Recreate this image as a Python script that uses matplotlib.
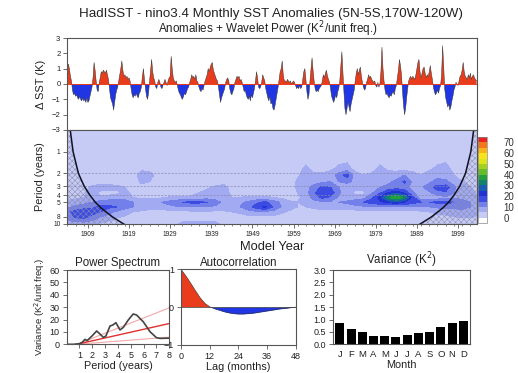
import numpy as np
import matplotlib
matplotlib.use('Agg')
import matplotlib.pyplot as plt
from matplotlib.ticker import NullLocator, FixedLocator, MultipleLocator

plt.rcParams['font.family'] = ['Liberation Sans', 'DejaVu Sans']
plt.rcParams['hatch.linewidth'] = 0.35

# Nino3.4 SST anomaly (K), 4 values per year from 1904
sst_anom = [
    1.1, 1.3, 1.0, 0.5,    0.2, -0.4, -0.7, -0.6,   -0.8, -0.7, -0.9, -1.0,  -0.8, -1.0, -1.1, -0.9,
    -1.1, -1.0, -1.2, -0.9,  -1.2, -1.1, -0.8, -0.5,  -0.2, 0.4, 1.4, 0.9,   0.2, -0.4, -0.5, 0.1,
    0.4, 0.8, 0.7, 0.9,    0.8, 0.7, 0.9, 0.6,    0.3, -0.3, -0.9, -1.1,  -1.3, -1.7, -1.2, -0.7,
    -0.4, -0.2, 0.2, 0.6,  1.0, 1.5, 0.9, 0.5,    0.6, 0.4, 0.5, 0.3,    0.4, 0.2, -0.3, -0.7,
    -0.9, -0.7, -0.8, -0.6,  -0.8, -0.9, -0.6, -0.5,  -0.2, 0.5, 1.0, 0.3,  -0.3, -0.8, -1.0, -0.6,
    0.2, 0.9, 1.6, 0.8,    0.4, 0.2, -0.2, -0.3,  0.1, 0.3, 0.1, -0.2,   -0.3, -0.1, 0.1, 0.3,
    0.1, -0.1, 0.2, 0.4,   0.5, 1.8, 1.0, 0.4,    0.2, 0.1, 0.2, -0.1,   -0.4, -0.6, -0.7, -0.9,
    -1.0, -0.8, -0.6, -0.7,  -0.5, -0.3, -0.2, 0.1,  0.3, 0.6, 0.4, 0.5,   0.3, 0.6, 0.2, 0.1,
    -0.2, -0.4, -0.5, -0.3,  -0.4, -0.1, 0.2, 0.4,  0.6, 1.0, 0.8, 1.1,   1.3, 1.4, 0.9, 0.7,
    0.5, 0.3, 0.2, -0.2,   -0.7, -1.2, -0.9, -0.7,  -0.5, -0.3, 0.1, 0.3,  0.4, 0.2, -0.3, -0.6,
    -0.7, -0.5, -0.3, 0.1,  0.3, 0.5, 0.4, 0.5,   0.2, 0.3, 0.1, -0.2,   -0.5, -0.4, -0.7, -0.9,
    -1.0, -0.8, -1.1, -0.7,  -0.9, -0.6, -0.3, 0.2,  0.8, 0.4, -0.2, -0.3,  -0.2, 0.1, 0.6, 0.4,
    0.2, -0.3, -0.6, -0.9,  -1.1, -0.8, -1.3, -1.2,  -1.6, -1.7, -1.4, -1.0,  -0.6, -0.2, 0.3, 0.8,
    1.0, 1.5, 0.6, 0.2,    0.2, 0.1, 0.3, 0.2,    0.1, 0.2, 0.0, 0.1,    0.2, 0.1, -0.1, -0.3,
    -0.2, -0.3, -0.1, -0.3,  -0.2, 0.3, 0.8, 1.0,  0.3, -0.5, -1.0, -0.7,  0.2, 1.0, 1.7, 0.9,
    0.2, -0.3, -0.5, -0.4,  -0.5, -0.3, -0.2, -0.1,  0.2, 0.6, 0.4, 0.7,  0.9, 0.5, 0.3, 0.1,
    -0.3, -0.8, -1.0, -1.2,  -1.0, -0.7, -0.9, -0.5,  -0.3, 0.2, 1.2, 2.1,  0.8, -0.5, -1.6, -2.0,
    -1.6, -1.2, -1.5, -1.8,  -1.3, -1.0, -0.7, -0.4,  0.2, 0.7, 1.0, 0.6,  0.9, 1.1, 0.5, 0.1,
    -0.2, -0.4, -0.3, 0.1,  0.3, 0.6, 0.4, 0.5,   0.3, 0.2, 0.1, 0.2,    -0.1, -0.2, 0.1, -0.2,
    0.0, 0.8, 2.4, 1.0,    0.2, -0.4, -0.7, -0.6,  -0.8, -0.9, -0.7, -0.8,  -0.6, -0.5, -0.7, -0.3,
    -0.1, 0.4, 0.9, 1.6,   1.2, 0.6, -0.5, -1.4,  -2.0, -1.6, -0.9, -0.3,  0.2, 0.4, 0.5, 0.3,
    0.5, 0.4, 0.3, 0.6,    1.0, 1.4, 1.6, 0.8,    0.4, 0.7, 1.0, 1.1,    0.7, 0.4, 0.6, 0.5,
    0.8, 1.2, 0.7, 0.3,    -0.2, -0.5, -0.7, -0.6,  -0.4, -0.6, -0.3, -0.1,  0.6, 2.5, 1.2, -0.3,
    -0.9, -1.2, -1.5, -1.3,  -1.7, -1.5, -1.1, -0.8,  -0.4, -0.2, 0.1, 0.0,  -0.1, 0.2, 0.5, 0.6,
    0.9, 1.4, 0.8, 0.5,    0.4, 0.3, 0.6, 0.4,    0.7, 0.3, 0.5, 0.6,    0.4, 0.3, 0.2,
]
start_year = 1904
end_year = 2003.5

# Wavelet power (K^2/unit freq.), one column every two years, rows = periods below
wave_years = list(range(1904, 2005, 2))
wave_periods = [0.5, 1.0, 1.7, 2.1, 2.6, 3.1, 3.7, 4.3, 5.0, 5.8, 6.8, 8.2, 10.0]
wave_cols = [
    [1, 2, 2, 2, 2, 3, 3, 4, 6, 9, 14, 12, 6],
    [1, 2, 2, 2, 2, 3, 3, 4, 7, 11, 17, 15, 7],
    [1, 2, 2, 2, 2, 3, 4, 5, 8, 13, 18, 16, 7],
    [1, 2, 2, 2, 3, 6, 7, 6, 10, 14, 17, 13, 6],
    [1, 2, 2, 2, 3, 7, 4, 6, 12, 16, 15, 9, 4],
    [1, 2, 2, 2, 3, 7, 3, 7, 13, 16, 12, 7, 3],
    [1, 2, 2, 2, 3, 6, 4, 7, 13, 15, 9, 5, 3],
    [1, 2, 2, 2, 2, 5, 6, 8, 12, 12, 7, 4, 2],
    [1, 2, 2, 3, 2, 3, 4, 5, 10, 10, 5, 3, 2],
    [1, 2, 4, 7, 6, 3, 3, 4, 8, 8, 4, 3, 2],
    [1, 2, 3, 7, 5, 3, 3, 4, 8, 7, 3, 2, 2],
    [1, 2, 2, 3, 2, 2, 3, 4, 9, 7, 3, 2, 2],
    [1, 2, 2, 2, 2, 2, 3, 5, 11, 8, 3, 2, 3],
    [1, 2, 2, 2, 2, 2, 3, 6, 13, 9, 3, 3, 4],
    [1, 2, 2, 2, 2, 2, 3, 6, 15, 10, 3, 3, 6],
    [1, 2, 2, 2, 2, 2, 3, 6, 16, 10, 4, 3, 7],
    [1, 2, 2, 2, 2, 3, 5, 7, 16, 10, 4, 3, 7],
    [1, 2, 2, 2, 2, 4, 7, 8, 15, 10, 4, 3, 7],
    [1, 2, 2, 2, 2, 6, 8, 8, 12, 9, 4, 3, 6],
    [1, 2, 2, 2, 3, 7, 7, 6, 9, 8, 4, 2, 4],
    [1, 2, 2, 2, 2, 3, 4, 5, 8, 8, 5, 2, 2],
    [1, 2, 2, 2, 2, 2, 3, 5, 9, 10, 6, 2, 2],
    [1, 2, 2, 2, 2, 2, 3, 6, 11, 13, 8, 3, 2],
    [1, 2, 2, 2, 2, 2, 3, 6, 14, 17, 9, 3, 2],
    [1, 2, 2, 2, 2, 2, 3, 6, 16, 21, 9, 3, 2],
    [1, 2, 2, 2, 2, 2, 3, 5, 13, 15, 8, 3, 2],
    [1, 2, 2, 2, 2, 2, 3, 4, 9, 10, 6, 2, 2],
    [1, 2, 2, 2, 2, 2, 3, 3, 6, 7, 4, 2, 2],
    [1, 2, 3, 4, 6, 6, 5, 4, 5, 5, 3, 2, 2],
    [1, 2, 6, 8, 8, 8, 8, 7, 6, 5, 3, 2, 2],
    [1, 2, 3, 6, 8, 12, 14, 12, 8, 6, 3, 2, 2],
    [1, 2, 3, 6, 9, 16, 20, 16, 9, 7, 3, 2, 2],
    [1, 2, 4, 7, 10, 15, 18, 14, 9, 7, 3, 2, 2],
    [1, 2, 6, 12, 10, 10, 11, 9, 10, 7, 3, 2, 2],
    [1, 2, 7, 17, 12, 5, 7, 7, 11, 7, 3, 2, 2],
    [1, 2, 3, 7, 8, 6, 4, 7, 13, 8, 3, 2, 2],
    [1, 2, 2, 5, 7, 6, 4, 8, 15, 9, 3, 2, 2],
    [1, 2, 3, 6, 8, 8, 9, 14, 17, 9, 3, 2, 2],
    [1, 2, 6, 7, 9, 10, 14, 22, 19, 9, 3, 2, 2],
    [1, 2, 4, 7, 9, 11, 20, 34, 21, 9, 3, 2, 2],
    [1, 2, 3, 8, 11, 12, 24, 40, 23, 9, 3, 2, 2],
    [1, 2, 3, 10, 16, 12, 19, 33, 20, 9, 3, 2, 2],
    [1, 2, 3, 7, 9, 8, 11, 17, 17, 9, 3, 2, 2],
    [1, 2, 3, 5, 8, 9, 7, 5, 15, 10, 4, 2, 2],
    [1, 2, 4, 7, 9, 13, 9, 5, 15, 10, 5, 2, 2],
    [1, 2, 6, 8, 12, 17, 13, 7, 16, 11, 6, 3, 2],
    [1, 2, 7, 8, 11, 18, 14, 9, 17, 11, 7, 3, 2],
    [1, 2, 3, 5, 8, 11, 10, 9, 15, 11, 8, 4, 2],
    [1, 2, 2, 3, 5, 7, 7, 8, 13, 11, 9, 5, 2],
    [1, 2, 2, 2, 3, 5, 6, 7, 10, 10, 8, 5, 2],
    [1, 2, 2, 2, 2, 3, 4, 5, 7, 8, 6, 4, 2],
]
wave_levels = list(range(0, 75, 5))
wave_colors = ['#ffffff', '#c6cbf6', '#a2aaf1', '#7480ea', '#3c4ce2', '#2232d2',
               '#1a5cb2', '#12806c', '#22a03e', '#64bc28', '#a4d020', '#dce61a',
               '#f8e41a', '#f6b41a', '#f2761c', '#e62222']

# cone of influence: period (years) vs distance from the record ends (years)
coi_period = [0.45, 1.0, 2.0, 3.0, 4.0, 5.0, 6.0, 8.0, 10.0, 11.0]
coi_dist = [0.6, 1.4, 2.7, 4.1, 5.5, 6.8, 8.2, 11.0, 13.7, 15.0]

# global power spectrum
spec_period = [0, 0.5, 1.0, 1.2, 1.43, 1.6, 1.8, 2.0, 2.34, 2.6, 2.86, 3.06, 3.38,
               3.6, 3.84, 4.16, 4.42, 4.8, 5.19, 5.45, 5.97, 6.5, 7.0, 7.27, 8.0]
spec_power = [0, 0, 0.5, 1.5, 4.0, 3.0, 5.0, 7.0, 10.8, 8.3, 5.6, 6.7, 14.8,
              15.6, 17.5, 11.6, 13.7, 19.6, 24.5, 23.7, 18.3, 10.2, 5.4, 4.8, 5.0]
rn_period = [1.0, 8.0]
rn_mean = [0.5, 16.8]
rn_upper = [0.8, 29.5]
rn_lower = [0.2, 5.8]

# autocorrelation every 2 months
ac_lag = list(range(0, 49, 2))
ac_val = [1.0, 0.83, 0.64, 0.44, 0.25, 0.10, 0.01, -0.04, -0.08, -0.12, -0.15, -0.17, -0.18,
          -0.18, -0.17, -0.16, -0.14, -0.12, -0.10, -0.08, -0.06, -0.04, -0.03, -0.01, 0.0]

# monthly variance
months = ['J', 'F', 'M', 'A', 'M', 'J', 'J', 'A', 'S', 'O', 'N', 'D']
month_var = [0.88, 0.62, 0.51, 0.33, 0.33, 0.31, 0.36, 0.44, 0.51, 0.68, 0.88, 0.93]

RED = '#e83c1c'
BLUE = '#2036e4'
FRAME = '#555555'
TXT = '#222222'


def style(ax, size=6.5):
    for s in ax.spines.values():
        s.set_color(FRAME)
        s.set_linewidth(0.8)
    ax.tick_params(direction='out', length=3, width=0.6, color=FRAME, labelsize=size, pad=2,
                   labelcolor=TXT)
    ax.tick_params(top=False, right=False)


fig = plt.figure(figsize=(5.18, 3.73), dpi=100)

fig.text(0.523, 1 - 14 / 373, 'HadISST - nino3.4 Monthly SST Anomalies (5N-5S,170W-120W)',
         ha='center', va='center', fontsize=9.6, color=TXT)
fig.text(0.518, 1 - 29 / 373, 'Anomalies + Wavelet Power (K$^2$/unit freq.)',
         ha='center', va='center', fontsize=8.4, color=TXT)

# --- anomaly time series ---
anom = np.array(sst_anom)
t = start_year + np.arange(len(anom)) / 4.0
ax1 = fig.add_axes([0.130, 0.6515, 0.790, 0.2466])
ax1.fill_between(t, anom, 0, where=anom >= 0, interpolate=True, color=RED, lw=0)
ax1.fill_between(t, anom, 0, where=anom <= 0, interpolate=True, color=BLUE, lw=0)
ax1.plot(t, anom, color='#333333', lw=0.35)
ax1.axhline(0, color=RED, lw=0.7)
ax1.set_xlim(start_year, end_year)
ax1.set_ylim(-3, 3)
ax1.set_yticks(range(-3, 4))
ax1.set_xticks([])
ax1.set_ylabel('Δ SST (K)', fontsize=8, labelpad=4, color=TXT)
style(ax1, 5.5)

# --- wavelet power ---
ax2 = fig.add_axes([0.130, 0.3995, 0.790, 0.252])
Z = np.array(wave_cols).T
cs = ax2.contourf(wave_years, wave_periods, Z, levels=wave_levels, colors=wave_colors[1:-1],
                  extend='both')
cs.cmap.set_under(wave_colors[0])
cs.cmap.set_over(wave_colors[-1])
cs.changed()
ax2.set_yscale('log')
ax2.set_ylim(10, 0.5)
ax2.set_xlim(start_year, end_year)
for p in [2, 3, 4]:
    ax2.axhline(p, color='#8888aa', lw=0.5, ls=(0, (3, 2)))
cp = np.array(coi_period)
cd = np.array(coi_dist)
ax2.fill_betweenx(cp, start_year, start_year + cd, facecolor='none', edgecolor='#8c8cac',
                  hatch='xxxxxx', lw=0)
ax2.fill_betweenx(cp, end_year - cd, end_year, facecolor='none', edgecolor='#8c8cac',
                  hatch='xxxxxx', lw=0)
ax2.plot(start_year + cd, cp, color='#111122', lw=1.1)
ax2.plot(end_year - cd, cp, color='#111122', lw=1.1)
ax2.yaxis.set_major_locator(FixedLocator([1, 2, 3, 4, 5, 8, 10]))
ax2.yaxis.set_minor_locator(NullLocator())
ax2.set_yticklabels(['1', '2', '3', '4', '5', '8', '10'])
ax2.set_xticks(range(1909, 2000, 10))
ax2.xaxis.set_minor_locator(MultipleLocator(2))
ax2.tick_params(which='minor', direction='out', length=1.5, width=0.5, color=FRAME)
ax2.set_ylabel('Period (years)', fontsize=7.8, labelpad=6, color=TXT)
ax2.set_xlabel('Model Year', fontsize=9.3, labelpad=2, color=TXT)
style(ax2, 4.8)

cax = fig.add_axes([0.9228, 0.402, 0.0174, 0.2306])
cb = fig.colorbar(cs, cax=cax, extendrect=True, extendfrac='auto', ticks=range(0, 80, 10))
cb.outline.set_edgecolor('#888888')
cb.outline.set_linewidth(0.5)
cax.tick_params(length=0, labelsize=7, pad=12, colors='#333333')

# --- power spectrum ---
ax3 = fig.add_axes([0.1287, 0.0769, 0.198, 0.199])
ax3.plot(rn_period, rn_upper, color='#f5a8a8', lw=0.8)
ax3.plot(rn_period, rn_lower, color='#f5a8a8', lw=0.8)
ax3.plot(rn_period, rn_mean, color='#e03030', lw=1.0)
ax3.plot(spec_period, spec_power, color='#444444', lw=1.2)
ax3.set_xlim(0, 8)
ax3.set_ylim(0, 60)
ax3.set_xticks(range(1, 9))
ax3.set_yticks(range(0, 61, 10))
ax3.set_title('Power Spectrum', fontsize=8.3, pad=3, color=TXT)
ax3.set_xlabel('Period (years)', fontsize=7.8, labelpad=0.5, color=TXT)
ax3.set_ylabel('Variance (K$^2$/unit freq.)', fontsize=6.8, labelpad=2, color=TXT)
style(ax3)

# --- autocorrelation ---
ac = np.array(ac_val)
ax4 = fig.add_axes([0.3494, 0.0751, 0.2214, 0.203])
ax4.fill_between(ac_lag, ac, 0, where=ac >= 0, interpolate=True, color=RED, lw=0)
ax4.fill_between(ac_lag, ac, 0, where=ac <= 0, interpolate=True, color=BLUE, lw=0)
ax4.plot(ac_lag, ac, color='#333333', lw=0.4)
ax4.axhline(0, color='#333333', lw=0.5)
ax4.set_xlim(0, 48)
ax4.set_ylim(-1, 1)
ax4.set_xticks(range(0, 49, 12))
ax4.set_yticks([-1, 0, 1])
ax4.set_title('Autocorrelation', fontsize=8.3, pad=1, color=TXT)
ax4.set_xlabel('Lag (months)', fontsize=7.8, labelpad=0.5, color=TXT)
style(ax4)

# --- monthly variance ---
ax5 = fig.add_axes([0.643, 0.0769, 0.2645, 0.199])
ax5.bar(range(1, 13), month_var, width=0.8, color='black')
ax5.set_xlim(0.4, 12.6)
ax5.set_ylim(0, 3)
ax5.set_xticks(range(1, 13))
ax5.set_xticklabels(months)
ax5.set_yticks(np.arange(0, 3.01, 0.5))
ax5.set_yticklabels(['0.0', '0.5', '1.0', '1.5', '2.0', '2.5', '3.0'])
ax5.set_title('Variance (K$^2$)', fontsize=8.3, pad=3, color=TXT)
ax5.set_xlabel('Month', fontsize=7.8, labelpad=1, color=TXT)
style(ax5)
ax5.tick_params(axis='x', length=0, pad=4, labelsize=6.8)

fig.savefig('out.png', dpi=100)
